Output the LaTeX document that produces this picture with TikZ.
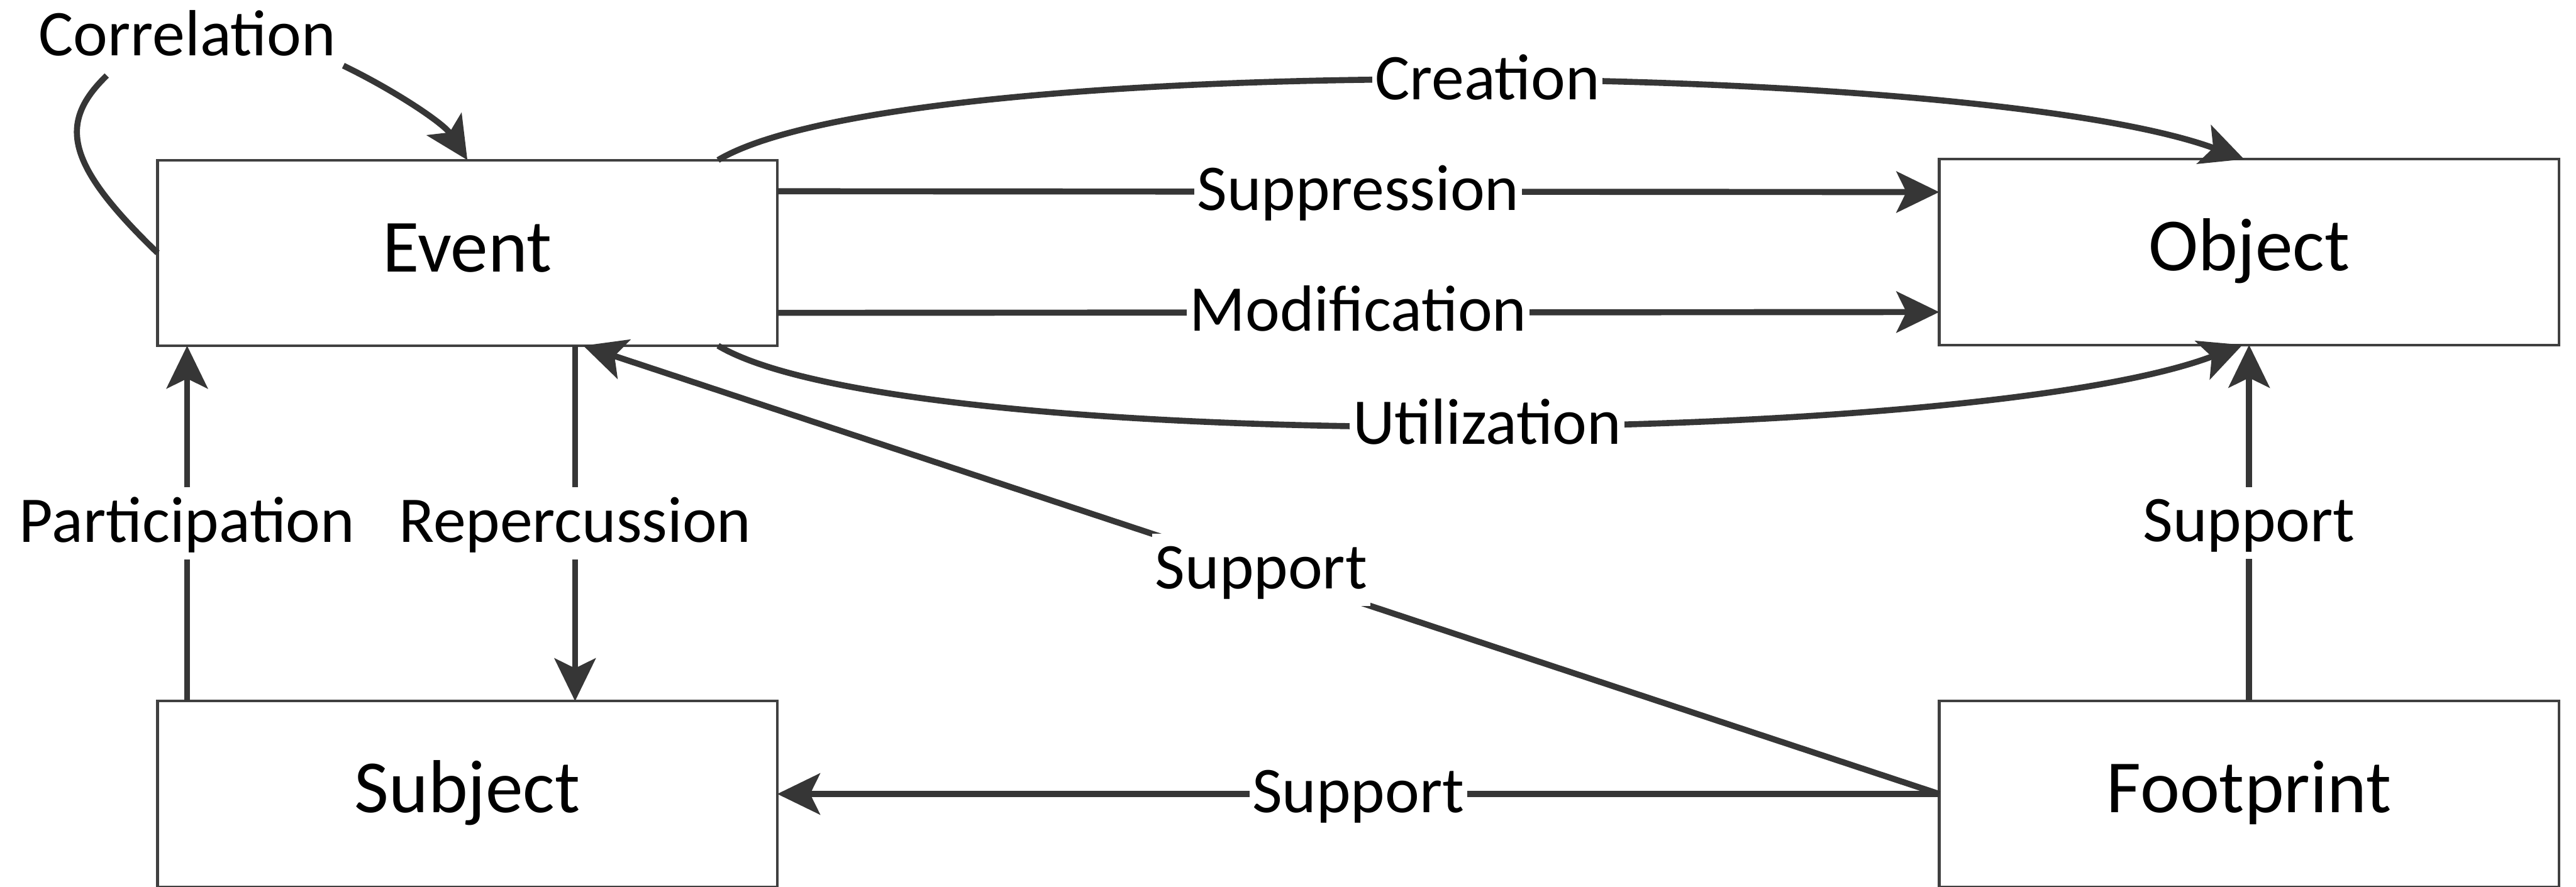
\documentclass[tikz,border=0pt]{standalone}
\usepackage{fontspec}
\setmainfont{Carlito}
\usetikzlibrary{arrows.meta}
\definecolor{linecol}{HTML}{363636}
\definecolor{boxcol}{HTML}{404040}
\begin{document}
\begin{tikzpicture}[x=0.01cm, y=-0.01cm,
  box/.style={draw=boxcol, line width=0.45pt, fill=white, minimum width=3.77cm, minimum height=1.13cm, inner sep=0pt, outer sep=0pt, font=\fontsize{13}{15}\selectfont, text height=0.65em, text depth=0pt},
  conn/.style={draw=linecol, line width=1.05pt, -{Stealth[length=2.6mm, width=2.5mm, inset=0.6mm]}},
  plain/.style={draw=linecol, line width=1.05pt},
  lbl/.style={fill=white, font=\fontsize{11.3}{13}\selectfont, inner xsep=0.5pt, inner ysep=3pt, text height=0.65em, text depth=0pt}
]
\useasboundingbox (0,0) rectangle (1568,540);

\node[box] (ev) at (284.5,154) {Event};
\node[box] (ob) at (1369,153.5) {Object};
\node[box] (sb) at (284.5,483.5) {Subject};
\node[box] (fp) at (1369,483.5) {Footprint};

\node[lbl, fill=none, anchor=base] (corr) at (114,33.7) {Correlation};
\coordinate (cl) at (65,46);
\coordinate (cr) at (209,40);
\draw[plain] (ev.west) .. controls (40,100) and (35,75) .. (cl);
\draw[conn] (cr) .. controls (240,55) and (270,75) .. (ev.north);

\draw[conn] ([xshift=-0.36cm]ev.north east) .. controls (550,30) and (1200,36) .. node[lbl, pos=0.52]{Creation} ([xshift=-0.03cm]ob.north);
\draw[conn] ([yshift=-0.19cm]ev.north east) -- node[lbl]{Suppression} ([yshift=-0.20cm]ob.north west);
\draw[conn] ([yshift=0.2cm]ev.south east) -- node[lbl]{Modification} ([yshift=0.2cm]ob.south west);
\draw[conn] ([xshift=-0.36cm]ev.south east) .. controls (550,278) and (1200,273) .. node[lbl, pos=0.52]{Utilization} ([xshift=-0.04cm]ob.south);

\draw[conn] ([xshift=0.18cm]sb.north west) -- node[lbl]{Participation} ([xshift=0.18cm]ev.south west);
\draw[conn] ([xshift=0.655cm]ev.south) -- node[lbl]{Repercussion} ([xshift=0.655cm]sb.north);
\draw[conn] (fp.west) -- node[lbl]{Support} ([xshift=0.705cm]ev.south);
\draw[conn] (fp.west) -- node[lbl]{Support} (sb.east);
\draw[conn] (fp.north) -- node[lbl]{Support} (ob.south);
\end{tikzpicture}
\end{document}
